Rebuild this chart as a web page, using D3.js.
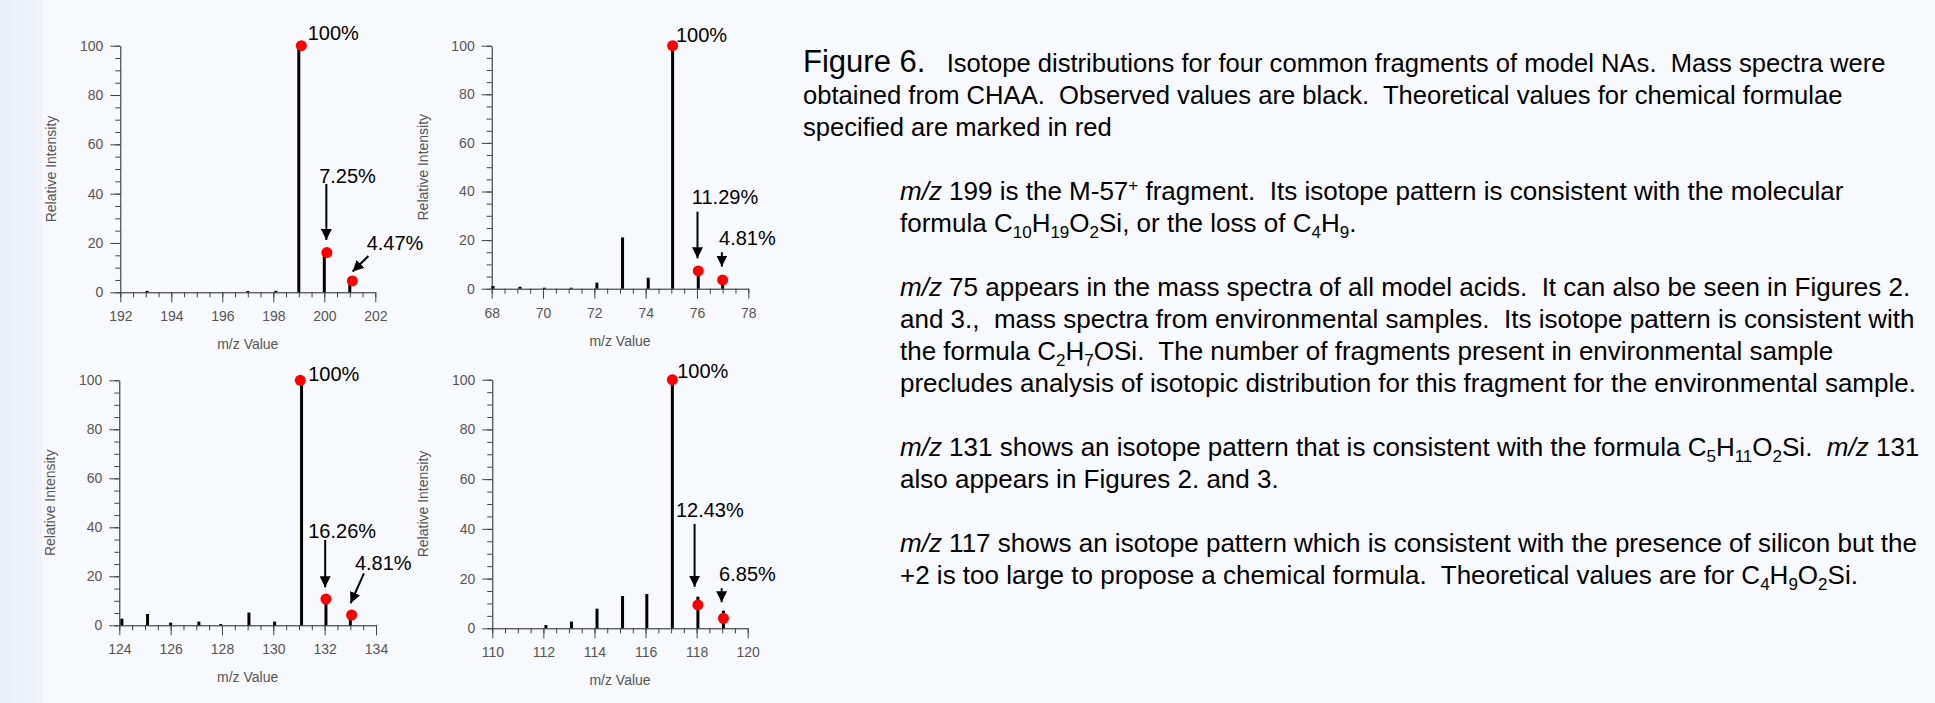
<!DOCTYPE html>
<html>
<head>
<meta charset="utf-8">
<script src="https://cdn.jsdelivr.net/npm/d3@7"></script>
<style>
  html, body { margin: 0; padding: 0; background: #f8f9fc; }
  svg { display: block; font-family: "Liberation Sans", Arial, sans-serif; }
</style>
</head>
<body>
<svg id="fig"></svg>
<script>
// ---- data ----
const xDomains = [[192, 202], [68, 78], [124, 134], [110, 120]];
const yTicks = [0, 20, 40, 60, 80, 100];

// observed sticks (black): [m/z, relative intensity]
const observed199 = [[193.05, 0.6], [197.0, 0.5], [198.1, 0.6], [199.0, 100], [200.0, 15.5], [201.0, 4.3]];
const observed75 = [[68.05, 1.1], [69.1, 0.8], [70.05, 0.4], [71.1, 0.4], [72.1, 2.5], [73.1, 21.1], [74.1, 4.5], [75.05, 100], [76.05, 7.0], [77.0, 3.3]];
const observed131 = [[124.1, 2.7], [125.1, 4.6], [126.0, 1.1], [127.1, 1.5], [127.95, 0.5], [129.05, 5.2], [130.05, 1.5], [131.1, 100], [132.05, 10.5], [133.0, 4.0]];
const observed117 = [[112.1, 1.3], [113.1, 2.7], [114.1, 7.9], [115.1, 13.0], [116.05, 13.8], [117.05, 100], [118.05, 12.7], [119.05, 7.1]];

// theoretical values (red dots)
const theory199 = [[199.1, 100], [200.1, 16.1], [201.1, 4.6]];
const theory75 = [[75.05, 100], [76.05, 7.3], [77.0, 3.6]];
const theory131 = [[131.05, 100], [132.05, 10.7], [133.05, 4.2]];
const theory117 = [[117.05, 100], [118.05, 9.4], [119.05, 4.0]];

// percent labels
const labels199 = ["100%", "7.25%", "4.47%"];
const labels75 = ["100%", "11.29%", "4.81%"];
const labels131 = ["100%", "16.26%", "4.81%"];
const labels117 = ["100%", "12.43%", "6.85%"];

// caption + notes (<i>, <sub>, <sup>, <big> are simple markup)
const caption = [
  "<big>Figure 6.</big>   Isotope distributions for four common fragments of model NAs.  Mass spectra were",
  "obtained from CHAA.  Observed values are black.  Theoretical values for chemical formulae",
  "specified are marked in red"
];
const notes = [
  ["<i>m/z</i> 199 is the M-57<sup>+</sup> fragment.  Its isotope pattern is consistent with the molecular",
   "formula C<sub>10</sub>H<sub>19</sub>O<sub>2</sub>Si, or the loss of C<sub>4</sub>H<sub>9</sub>."],
  ["<i>m/z</i> 75 appears in the mass spectra of all model acids.  It can also be seen in Figures 2.",
   "and 3.,  mass spectra from environmental samples.  Its isotope pattern is consistent with",
   "the formula C<sub>2</sub>H<sub>7</sub>OSi.  The number of fragments present in environmental sample",
   "precludes analysis of isotopic distribution for this fragment for the environmental sample."],
  ["<i>m/z</i> 131 shows an isotope pattern that is consistent with the formula C<sub>5</sub>H<sub>11</sub>O<sub>2</sub>Si.  <i>m/z</i> 131",
   "also appears in Figures 2. and 3."],
  ["<i>m/z</i> 117 shows an isotope pattern which is consistent with the presence of silicon but the",
   "+2 is too large to propose a chemical formula.  Theoretical values are for C<sub>4</sub>H<sub>9</sub>O<sub>2</sub>Si."]
];

// ---- layout ----
const width = 1935, height = 703;
const svg = d3.select("#fig").attr("width", width).attr("height", height);

// background with the pale strip on the left
const defs = svg.append("defs");
const grad = defs.append("linearGradient").attr("id", "strip");
grad.append("stop").attr("offset", "0%").attr("stop-color", "#e9eef7");
grad.append("stop").attr("offset", "100%").attr("stop-color", "#f0f3f9");
svg.append("rect").attr("width", width).attr("height", height).attr("fill", "#f8f9fc");
svg.append("rect").attr("width", 42).attr("height", height).attr("fill", "url(#strip)");

// arrow head
defs.append("marker")
  .attr("id", "head")
  .attr("viewBox", "0 0 10 10")
  .attr("refX", 10).attr("refY", 5)
  .attr("markerUnits", "userSpaceOnUse")
  .attr("markerWidth", 11).attr("markerHeight", 11)
  .attr("orient", "auto")
  .append("path").attr("d", "M0,0L10,5L0,10Z").attr("fill", "#000");

// where each panel's plot area sits
const boxes = [
  { x0: 120.3, x1: 375.3, yTop: 45.7, yBot: 292.3 },
  { x0: 491.7, x1: 748.3, yTop: 45.7, yBot: 288.7 },
  { x0: 119.3, x1: 376.0, yTop: 380.3, yBot: 625.3 },
  { x0: 492.3, x1: 747.7, yTop: 379.7, yBot: 628.3 }
];

// label anchor [x, y] and optional arrow [x1, y1, x2, y2], in data units
const spots = [
  [{ at: [199.35, 102.5] },
   { at: [199.8, 44.2], arrow: [200.08, 43.9, 200.08, 21.2] },
   { at: [201.66, 17.2], arrow: [201.73, 14.7, 201.11, 8.4] }],
  [{ at: [75.18, 101.6] },
   { at: [75.8, 34.9], arrow: [76.02, 31.7, 76.02, 12.5] },
   { at: [76.86, 18.0], arrow: [76.97, 15.0, 76.97, 9.1] }],
  [{ at: [131.36, 99.7] },
   { at: [131.36, 35.8], arrow: [132.02, 34.8, 132.02, 15.5] },
   { at: [133.18, 22.6], arrow: [133.53, 21.2, 133.01, 9.0] }],
  [{ at: [117.24, 100.8] },
   { at: [117.19, 44.9], arrow: [117.92, 42.0, 117.92, 16.7] },
   { at: [118.88, 19.1], arrow: [118.98, 16.1, 118.98, 10.5] }]
];

const observed = [observed199, observed75, observed131, observed117];
const theory = [theory199, theory75, theory131, theory117];
const pctLabels = [labels199, labels75, labels131, labels117];

boxes.forEach((b, i) => {
  const g = svg.append("g");
  const [lo, hi] = xDomains[i];
  const x = d3.scaleLinear().domain(xDomains[i]).range([b.x0, b.x1]);
  const y = d3.scaleLinear().domain([0, 100]).range([b.yBot, b.yTop]);

  // minor ticks first (every 5 / every 0.5)
  g.append("g").attr("transform", `translate(${b.x0},0)`)
    .call(d3.axisLeft(y).tickValues(d3.range(0, 101, 5)).tickSize(5).tickSizeOuter(0).tickFormat(""))
    .call(a => a.select(".domain").remove());
  g.append("g").attr("transform", `translate(0,${b.yBot})`)
    .call(d3.axisBottom(x).tickValues(d3.range(lo, hi + 0.01, 0.5)).tickSize(5).tickSizeOuter(0).tickFormat(""))
    .call(a => a.select(".domain").remove());

  // major ticks with labels
  g.append("g").attr("class", "ax").attr("transform", `translate(${b.x0},0)`)
    .call(d3.axisLeft(y).tickValues(yTicks).tickSize(10).tickPadding(7).tickSizeOuter(0));
  g.append("g").attr("class", "ax").attr("transform", `translate(0,${b.yBot})`)
    .call(d3.axisBottom(x).tickValues(d3.range(lo, hi + 0.01, 2)).tickSize(10).tickPadding(9).tickSizeOuter(0));

  g.selectAll("line").attr("stroke", "#444");
  g.selectAll(".domain").attr("stroke", "#222");
  g.selectAll(".ax text").attr("fill", "#555").style("font-size", "14px")
    .style("font-family", "'Liberation Sans', Arial, sans-serif");

  // axis titles
  g.append("text")
    .attr("x", (b.x0 + b.x1) / 2).attr("y", b.yBot + 57)
    .attr("text-anchor", "middle").attr("fill", "#555").style("font-size", "14px")
    .text("m/z Value");
  g.append("text")
    .attr("transform", `translate(${b.x0 - 64},${(b.yTop + b.yBot) / 2}) rotate(-90)`)
    .attr("text-anchor", "middle").attr("fill", "#555").style("font-size", "14px")
    .text("Relative Intensity");

  // sticks
  g.selectAll(".stick").data(observed[i]).enter().append("line")
    .attr("class", "stick")
    .attr("x1", d => x(d[0])).attr("x2", d => x(d[0]))
    .attr("y1", y(0)).attr("y2", d => y(d[1]))
    .attr("stroke", "#000").attr("stroke-width", 3);

  // theoretical dots
  g.selectAll(".dot").data(theory[i]).enter().append("circle")
    .attr("class", "dot")
    .attr("cx", d => x(d[0])).attr("cy", d => y(d[1]))
    .attr("r", 5.5).attr("fill", "#ff0000");

  // percent labels + arrows
  spots[i].forEach((s, k) => {
    g.append("text")
      .attr("x", x(s.at[0])).attr("y", y(s.at[1]))
      .attr("fill", "#000").style("font-size", "20px")
      .text(pctLabels[i][k]);
    if (s.arrow) {
      g.append("line")
        .attr("x1", x(s.arrow[0])).attr("y1", y(s.arrow[1]))
        .attr("x2", x(s.arrow[2])).attr("y2", y(s.arrow[3]))
        .attr("stroke", "#000").attr("stroke-width", 2)
        .attr("marker-end", "url(#head)");
    }
  });
});

// ---- caption text block ----
const bodySize = 26, lineH = 32, firstBase = 71.5;

function richLine(xPos, yPos, str, size) {
  const t = svg.append("text").attr("x", xPos).attr("y", yPos)
    .attr("fill", "#000").style("font-size", size + "px").style("white-space", "pre");
  let mode = "n", shift = 0;
  str.split(/(<\/?(?:i|sub|sup|big)>)/).forEach(part => {
    if (!part) return;
    const m = part.match(/^<(\/?)(i|sub|sup|big)>$/);
    if (m) { mode = m[1] ? "n" : m[2]; return; }
    const want = mode === "sub" ? 6 : mode === "sup" ? -9 : 0;
    const ts = t.append("tspan").attr("dy", want - shift).text(part);
    shift = want;
    if (mode === "sub" || mode === "sup") ts.style("font-size", "17px");
    if (mode === "i") ts.style("font-style", "italic");
    if (mode === "big") ts.style("font-size", "31px");
  });
}

let row = 0;
caption.forEach(line => { richLine(803, firstBase + row * lineH, line, 25.6); row++; });
notes.forEach(par => {
  row++; // blank line between paragraphs
  par.forEach(line => { richLine(900, firstBase + row * lineH, line, bodySize); row++; });
});
</script>
</body>
</html>
